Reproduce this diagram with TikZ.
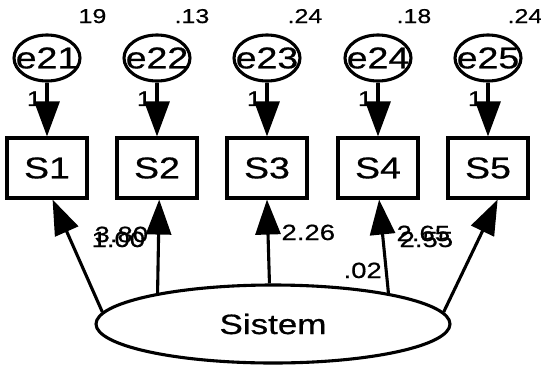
\documentclass[tikz,border=0pt]{standalone}
\usepackage{fontspec}
\setmainfont{Liberation Sans}[FakeStretch=1.25,FakeBold=0.6]
\usetikzlibrary{arrows.meta,shapes.geometric}

\begin{document}
\begin{tikzpicture}[x=1pt,y=-1pt,line width=3.1pt,
    obs/.style={draw,rectangle,minimum width=80pt,minimum height=60pt,inner sep=0pt,font=\fontsize{30}{30}\selectfont},
    err/.style={draw,ellipse,minimum width=66pt,minimum height=46pt,inner sep=0pt,font=\fontsize{30}{30}\selectfont},
    lat/.style={draw,ellipse,minimum width=354pt,minimum height=78pt,inner sep=0pt,font=\fontsize{28}{30}\selectfont},
    var/.style={anchor=base west,inner sep=0pt,font=\fontsize{20}{22}\selectfont},
    est/.style={anchor=base west,inner sep=0pt,font=\fontsize{22}{24}\selectfont},
    one/.style={left=3pt,inner sep=1pt,font=\fontsize{21}{22}\selectfont},
    reg/.style={-{Triangle[length=35pt,width=25pt]}}]
        \useasboundingbox (0,0) rectangle (541,365);
        % indicators with their error terms
        \foreach \i/\x in {1/47,2/157,3/267,4/378,5/488}{
            \node[obs] (s\i) at (\x,168) {S\i};
            \node[err] (e\i) at (\x,58) {\makebox[0pt]{e2\i}};
            \draw[reg] (e\i) -- node[one,pos=0.3] {1} (s\i);
        }
        % error variances
        \node[var] (v1) at (77,23) {19};
        \node[var] (v2) at (173,23) {.13};
        \node[var] (v3) at (286,23) {.24};
        \node[var] (v4) at (395,23) {.18};
        \node[var] (v5) at (506,23) {.24};
        % latent factor
        \node[lat] (sis) at (273,324) {Sistem};
        \draw[reg] (sis.176) -- (s1.-80);
        \draw[reg] (sis.165) -- (s2.-86);
        \draw[reg] (sis.95) -- (s3.south);
        \draw[reg] (sis.15) -- (s4.-88);
        \draw[reg] (sis.4) -- (s5.-73);
        % loadings
        \node[est] (b1) at (90,247) {1.00};
        \node[est] (b2) at (93,242) {3.80};
        \node[est] (b3) at (280,240) {2.26};
        \node[est] (b4) at (342,278) {.02};
        \node[est] (b5) at (395,241) {2.65};
        \node[est] (b6) at (398,247) {2.55};
\end{tikzpicture}
\end{document}
